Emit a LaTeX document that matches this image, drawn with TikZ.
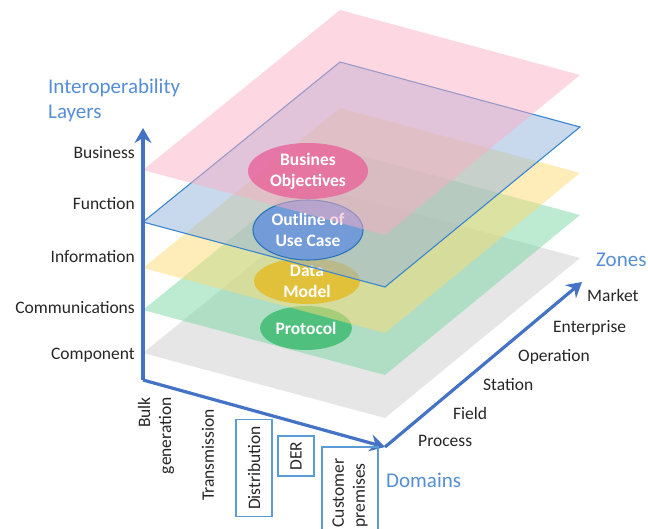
\documentclass[tikz,border=0pt]{standalone}
\usepackage{fontspec}
\setmainfont{Carlito}
\usetikzlibrary{arrows.meta,shapes.geometric}
\definecolor{axisblue}{RGB}{68,114,196}
\definecolor{titleblue}{RGB}{85,142,213}
\definecolor{boxblue}{RGB}{91,155,213}
\definecolor{edgeblue}{RGB}{58,134,204}
\definecolor{pinkp}{RGB}{251,175,197}
\definecolor{bluep}{RGB}{145,179,221}
\definecolor{yellowp}{RGB}{253,219,115}
\definecolor{greenp}{RGB}{121,215,165}
\definecolor{greyp}{RGB}{205,205,205}
\definecolor{ellpink}{RGB}{232,100,154}
\definecolor{ellblue}{RGB}{115,155,215}
\definecolor{ellblueedge}{RGB}{46,117,182}
\definecolor{ellyellow}{RGB}{226,193,58}
\definecolor{ellgreen}{RGB}{79,192,126}
\newcommand{\layerplane}[2]{\path[#1] (143,#2) -- ++(197,-160) -- ++(240,65) -- ++(-195,160) -- cycle;}
\begin{document}
\begin{tikzpicture}[x=1pt,y=-1pt,
  lbl/.style={font=\fontsize{17.5}{21}\selectfont, inner sep=0pt, text=black!85},
  ttl/.style={font=\fontsize{21}{25}\selectfont, text=titleblue, inner sep=0pt},
  axisline/.style={line width=3.2pt, draw=axisblue, -{Stealth[length=15pt,width=17pt,inset=5pt]}},
  planefill/.style={fill opacity=0.5},
  ell/.style={ellipse, font=\bfseries\fontsize{17.5}{21}\selectfont, text=white, align=center, inner sep=0pt},
  dombox/.style={lbl, draw=boxblue, line width=1.2pt, rotate=90},
  domtxt/.style={lbl, rotate=90}]
\useasboundingbox (0,0) rectangle (648,529);
% layers, bottom to top
\layerplane{fill=greyp, planefill}{353}
\layerplane{fill=greenp, planefill}{310}
\node[ell, fill=ellgreen, minimum width=92pt, minimum height=44pt] (proto) at (306,328) {Protocol};
\layerplane{fill=yellowp, planefill}{268}
\node[ell, fill=ellyellow, minimum width=106pt, minimum height=46pt] (data) at (307,281) {Data\\Model};
\layerplane{fill=bluep, planefill, draw=edgeblue, draw opacity=1, line width=1.1pt}{222}
\node[ell, fill=ellblue, draw=ellblueedge, line width=1.1pt, minimum width=110pt, minimum height=60pt] (usecase) at (308,230) {Outline of\\Use Case};
\layerplane{fill=pinkp, planefill}{170}
\node[ell, fill=ellpink, fill opacity=0.8, text opacity=1, minimum width=120pt, minimum height=56pt] (busobj) at (308,171) {Busines\\Objectives};
% axes
\coordinate (O) at (143,380);
\coordinate (Ytip) at (143,128);
\coordinate (D) at (385,447);
\coordinate (Z) at (582,282);
\draw[axisline] (O) -- (Ytip);
\draw[axisline] (O) -- (D);
\draw[axisline] (D) -- (Z);
% titles
\node[ttl, anchor=west, align=left] (layers) at (48,100.5) {Interoperability\\Layers};
\node[ttl, anchor=west] (zones) at (596,260) {Zones};
\node[ttl, anchor=west] (domains) at (386,480) {Domains};
% layer labels
\node[lbl, anchor=east] (business) at (135,153) {Business};
\node[lbl, anchor=east] (function) at (135,204) {Function};
\node[lbl, anchor=east] (information) at (135,257) {Information};
\node[lbl, anchor=east] (communications) at (135,308) {Communications};
\node[lbl, anchor=east] (component) at (135,355) {Component};
% zone labels
\node[lbl, anchor=west] (market) at (587,295) {Market};
\node[lbl, anchor=west] (enterprise) at (553,328) {Enterprise};
\node[lbl, anchor=west] (operation) at (518,357) {Operation};
\node[lbl, anchor=west] (station) at (483,385) {Station};
\node[lbl, anchor=west] (field) at (453,413) {Field};
\node[lbl, anchor=west] (process) at (418,441) {Process};
% domain labels
\node[domtxt, align=right, anchor=east] (bulk) at (156,397) {Bulk\\generation};
\node[domtxt] (transmission) at (208,455) {Transmission};
\node[dombox, minimum width=97pt, minimum height=36pt] (distribution) at (254,468) {Distribution};
\node[dombox, minimum width=40pt, minimum height=36pt] (der) at (296,456) {DER};
\node[dombox, align=left, minimum width=92pt, minimum height=56pt] (customer) at (350,493) {Customer\\premises};
\end{tikzpicture}
\end{document}
